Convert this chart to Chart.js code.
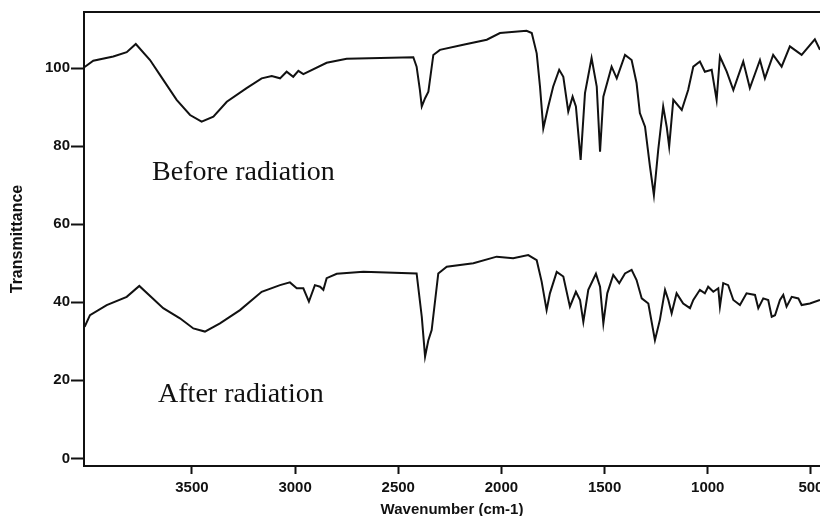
<!DOCTYPE html>
<html>
<head>
<meta charset="utf-8">
<script src="https://cdn.jsdelivr.net/npm/chart.js@4/dist/chart.umd.min.js"></script>
<style>
html,body{margin:0;padding:0;background:#fff;}
#wrap{width:820px;height:516px;}
</style>
</head>
<body>
<div id="wrap"><canvas id="c" width="820" height="516"></canvas></div>
<script>
// Before radiation spectrum (wavenumber cm-1, transmittance)
const wnBefore = [4020,3978,3881,3816,3772,3703,3655,3574,3509,3453,3396,3331,3235,3162,3113,3073,3041,3009,2984,2960,2847,2750,2427,2411,2395,2386,2370,2354,2330,2298,2185,2071,2007,1878,1853,1829,1813,1797,1773,1749,1720,1700,1676,1655,1639,1616,1595,1563,1538,1522,1506,1466,1441,1401,1369,1345,1329,1304,1280,1261,1240,1216,1199,1187,1167,1126,1095,1070,1038,1014,981,957,941,908,876,828,796,747,723,683,642,602,545,481,456];
const tBefore = [100.3,101.9,103.0,104.1,106.2,102.1,98.3,91.9,88.0,86.3,87.6,91.4,94.9,97.4,98.0,97.4,99.1,97.8,99.3,98.5,101.4,102.4,102.8,100.4,94.4,90.2,92.3,94.0,103.4,104.7,106.0,107.3,109.0,109.6,109.0,103.8,95.3,84.6,90.2,95.3,99.6,97.8,88.9,92.7,90.2,76.5,93.6,102.6,95.3,78.6,92.7,100.4,97.4,103.4,102.1,96.2,88.5,85.0,74.8,67.5,79.1,90.2,85.0,79.9,91.9,89.3,94.4,100.4,101.7,99.1,99.6,91.9,103.0,99.1,94.4,101.7,94.9,102.1,97.4,103.4,100.4,105.6,103.4,107.4,104.7];

// After radiation spectrum
const wnAfter = [4020,3994,3913,3816,3755,3639,3558,3493,3437,3364,3267,3162,3073,3025,2992,2960,2933,2904,2879,2863,2847,2798,2669,2411,2386,2370,2354,2338,2306,2265,2136,2023,1943,1870,1829,1805,1781,1765,1732,1700,1668,1639,1619,1603,1579,1542,1522,1506,1487,1458,1429,1401,1369,1345,1320,1288,1256,1232,1207,1191,1175,1151,1119,1086,1070,1038,1014,998,973,949,941,925,901,876,844,812,771,755,731,707,690,674,650,634,618,593,561,545,505,456];
const tAfter = [33.7,36.7,39.3,41.4,44.2,38.5,35.9,33.3,32.5,34.6,38.0,42.7,44.4,45.1,43.6,43.6,40.2,44.4,44.0,43.2,46.2,47.3,47.8,47.4,36.3,26.1,30.3,32.9,47.4,49.1,50.0,51.7,51.3,52.1,50.8,45.3,38.0,42.3,47.8,46.6,38.9,42.7,40.6,35.0,43.2,47.3,44.0,34.6,42.3,47.0,44.9,47.4,48.3,45.7,41.0,39.7,30.3,35.5,43.2,40.6,37.2,42.3,39.7,38.5,40.6,43.2,42.3,44.0,42.7,43.6,38.9,44.9,44.4,40.6,39.3,42.3,41.9,38.5,41.0,40.6,36.3,36.7,40.6,41.9,38.9,41.4,41.0,39.3,39.7,40.6];

const xTicks = [3500,3000,2500,2000,1500,1000,500];
const yTicks = [0,20,40,60,80,100];
const seriesNames = ['Before radiation','After radiation'];

const xMin = 456, xMax = 4023, yMin = -1.95, yMax = 114.4;

const toPts = (xs, ys) => xs.map((x, i) => ({x: x, y: ys[i]}));

const inlineLabels = {
  id: 'inlineLabels',
  afterDatasetsDraw(chart) {
    const {ctx, scales} = chart;
    const spots = [
      {text: seriesNames[0], x: 3693, y: 71.4},
      {text: seriesNames[1], x: 3664, y: 14.5}
    ];
    ctx.save();
    ctx.fillStyle = '#111';
    ctx.font = '28px "Liberation Serif", "Times New Roman", serif';
    ctx.textAlign = 'left';
    ctx.textBaseline = 'alphabetic';
    spots.forEach(s => {
      ctx.fillText(s.text, scales.x.getPixelForValue(s.x), scales.y.getPixelForValue(s.y));
    });
    ctx.restore();
  }
};

const tickFont = {family: '"Liberation Sans", Arial, sans-serif', size: 15, weight: 'bold'};

new Chart(document.getElementById('c'), {
  type: 'scatter',
  data: {
    datasets: [
      {label: seriesNames[0], data: toPts(wnBefore, tBefore), showLine: true, borderColor: '#111', borderWidth: 2, pointRadius: 0, tension: 0, fill: false},
      {label: seriesNames[1], data: toPts(wnAfter, tAfter), showLine: true, borderColor: '#111', borderWidth: 2, pointRadius: 0, tension: 0, fill: false}
    ]
  },
  options: {
    responsive: false,
    animation: false,
    devicePixelRatio: 1,
    layout: {padding: {top: 12, left: 0, right: 0, bottom: 0}},
    plugins: {legend: {display: false}, tooltip: {enabled: false}},
    scales: {
      x: {
        type: 'linear', position: 'bottom', reverse: true, min: xMin, max: xMax,
        afterBuildTicks: s => { s.ticks = xTicks.map(v => ({value: v})); },
        afterFit: s => { s.height = 50; s.paddingLeft = 0; s.paddingRight = 0; },
        ticks: {color: '#111', font: tickFont, padding: 5, maxRotation: 0, autoSkip: false, callback: v => String(v)},
        grid: {display: true, drawOnChartArea: false, drawTicks: true, tickLength: 8, tickColor: '#111', tickWidth: 2},
        border: {display: true, color: '#111', width: 2},
        title: {display: true, text: 'Wavenumber (cm-1)', color: '#111', font: {family: '"Liberation Sans", Arial, sans-serif', size: 15, weight: 'bold', lineHeight: 0.8}, padding: {top: 0, bottom: 0}}
      },
      x2: {
        type: 'linear', position: 'top', reverse: true, min: xMin, max: xMax,
        afterFit: s => { s.height = 0; s.paddingLeft = 0; s.paddingRight = 0; },
        ticks: {display: false},
        grid: {display: false, drawTicks: false},
        border: {display: true, color: '#111', width: 2}
      },
      y: {
        type: 'linear', position: 'left', min: yMin, max: yMax,
        afterBuildTicks: s => { s.ticks = yTicks.map(v => ({value: v})); },
        afterFit: s => { s.width = 84; s.paddingTop = 0; s.paddingBottom = 0; },
        ticks: {color: '#111', font: tickFont, padding: 1, autoSkip: false, callback: v => String(v)},
        grid: {display: true, drawOnChartArea: false, drawTicks: true, tickLength: 13, tickColor: '#111', tickWidth: 2},
        border: {display: true, color: '#111', width: 2},
        title: {display: true, text: 'Transmittance', color: '#111', font: {family: '"Liberation Sans", Arial, sans-serif', size: 16, weight: 'bold', lineHeight: 1}, padding: {top: 9.5, bottom: 0}}
      }
    }
  },
  plugins: [inlineLabels]
});
</script>
</body>
</html>
